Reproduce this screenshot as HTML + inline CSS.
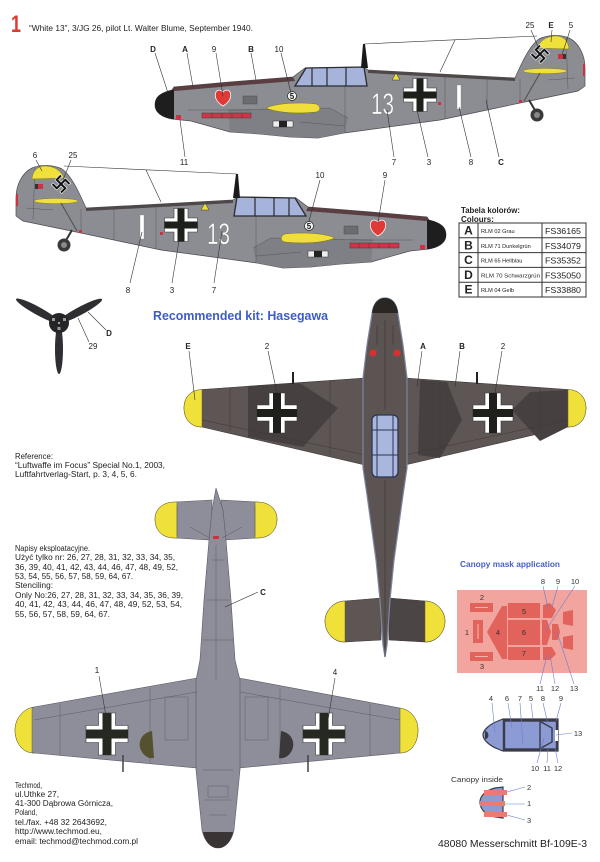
<!DOCTYPE html>
<html><head><meta charset="utf-8"><style>
html,body{margin:0;padding:0;background:#fff;}
svg{display:block;}
text{font-family:"Liberation Sans","DejaVu Sans",sans-serif;}
</style></head><body>
<svg xmlns="http://www.w3.org/2000/svg" xmlns:xlink="http://www.w3.org/1999/xlink" width="600" height="862" viewBox="0 0 600 862">
<defs>
<g id="side">
 <path d="M155,105 C155,97 160,93 172,90 L174,87 L230,82 L293,77 L305,68 L364,67 L368,70 L440,74 L515,78 C522,62 530,45 539,39 C547,35 560,34 569,38 C579,43 585,55 585,68 L585,86 L578,91 L520,103 L440,120 L344,133 L318,138 L290,137 L260,134 L230,132 L191,121 L172,119 C161,117 155,112 155,105Z" fill="#8b8d92" stroke="#4a4a50" stroke-width="0.7"/>
 <path d="M228,110 L330,108 L348,118 L344,133 L318,138 L290,137 L260,134 L230,132 Z" fill="#7e8086"/>
 <path d="M188,110 L250,110 M228,110 L330,108 L348,118 M300,122 L345,126 M345,70 V132 M445,75 V119 M487,77 V110 M520,79 V102 M566,37 L568,89 M548,80 L575,78" fill="none" stroke="#55575c" stroke-width="0.5"/>
 <path d="M172,90 L174,87 L230,82 L293,77 L295,81 L231,86 L175,91 Z" fill="#5a3e42"/>
 <path d="M368,70 L440,74 L515,78 L515,81 L440,77 L368,73 Z" fill="#4f4848"/>
 <path d="M155,105 C155,97 160,93 172,90 L174,90 L174,119 L172,119 C161,117 155,112 155,105Z" fill="#1e1e1e"/>
 <path d="M295,86 L306,68 L364,67 L367,86 Z" fill="#a6b3da" stroke="#2a2a30" stroke-width="1.3"/>
 <path d="M312,68 V86 M327,68 V86 M346,67 V86" stroke="#2a2a30" stroke-width="1.2"/>
 <path d="M361,68 L363,44 L365,44 L368,68Z" fill="#1a1a1a"/>
 <path d="M364,44 L537,36 M455,40 L440,72" stroke="#333" stroke-width="0.6" fill="none"/>
 <path d="M537,48 C540,41 546,36.5 555,36 C563,36 568,40 569,49 Z" fill="#efe13a" stroke="#7a6e1a" stroke-width="0.4"/>
 <rect x="558" y="54" width="5" height="5" fill="#d03040"/><rect x="563" y="54" width="3" height="5" fill="#333"/>
 <rect x="583" y="64" width="2" height="12" fill="#d03040"/>
 <ellipse cx="545" cy="71" rx="22" ry="2.6" fill="#efe13a" stroke="#7a6e1a" stroke-width="0.4"/>
 <path d="M540,73 L524,101" stroke="#555" stroke-width="1.2"/>
 <path d="M529,100 L536,112" stroke="#333" stroke-width="2"/>
 <rect x="519" y="100" width="3" height="3" fill="#d03040"/>
 <circle cx="537" cy="115" r="6.5" fill="#3a3a3a"/><circle cx="537" cy="115" r="3" fill="#888"/>
 <rect x="202" y="113" width="49" height="5" fill="#c8384a" stroke="#6a2a30" stroke-width="0.5"/>
 <path d="M212,113V118M222,113V118M232,113V118M242,113V118" stroke="#6a2a30" stroke-width="0.5"/>
 <rect x="176" y="115" width="5" height="4" fill="#d03040"/>
 <rect x="243" y="96" width="14" height="8" fill="#6a6c70" stroke="#444" stroke-width="0.4"/>
 <path d="M266,108 C276,103 300,102 316,104 C321,106 321,111 316,112 C298,114 278,113 266,108Z" fill="#f0df3a" stroke="#7a6e1a" stroke-width="0.5"/>
 <rect x="273" y="121" width="20" height="6" fill="#eee" stroke="#333" stroke-width="0.5"/><rect x="279" y="121" width="8" height="6" fill="#222"/>
 <path d="M223,106 C216,102 214,96 216,92 C218,89 221,90 223,92 C225,90 228,89 230,92 C232,96 230,102 223,106Z" fill="#e03a36" stroke="#fff" stroke-width="0.8"/>
 <path d="M413,78.5 H427 V88 H436.5 V102 H427 V111.5 H413 V102 H403.5 V88 H413 Z" fill="#fff" stroke="#333" stroke-width="0.6"/>
 <path d="M416.5,78.5 H423.5 V91.5 H436.5 V98.5 H423.5 V111.5 H416.5 V98.5 H403.5 V91.5 H416.5 Z" fill="#1c1f1a"/>
 <rect x="457" y="85" width="4" height="24" fill="#fff" stroke="#777" stroke-width="0.3"/>
 <rect x="438" y="102" width="3" height="3" fill="#d03040"/>
 <polygon points="392,80 396,73 400,80" fill="#efe13a" stroke="#333" stroke-width="0.5"/>
</g>
</defs>

<rect width="600" height="862" fill="#fff"/>

<!-- header -->
<text x="11" y="32" font-size="24" font-weight="bold" fill="#e03a2e" textLength="10" lengthAdjust="spacingAndGlyphs">1</text>
<text x="29" y="31" font-size="8" fill="#222" textLength="224" lengthAdjust="spacingAndGlyphs">“White 13”, 3/JG 26, pilot Lt. Walter Blume, September 1940.</text>

<!-- profile 1 -->
<use xlink:href="#side"/>
<text x="371" y="114" font-size="30" fill="#fff" stroke="#666" stroke-width="0.3" textLength="23" lengthAdjust="spacingAndGlyphs">13</text>
<circle cx="292" cy="96" r="4.5" fill="#f4f4f4" stroke="#222" stroke-width="0.7"/>
<text x="292" y="99" font-size="8" font-weight="bold" text-anchor="middle" fill="#111">5</text>
<g transform="translate(540,54) rotate(45)" fill="none" stroke-linecap="square">
 <path d="M0,-6V6M-6,0H6M0,-6H5M6,0V5M0,6H-5M-6,0V-5" stroke="#fff" stroke-width="3.2"/>
 <path d="M0,-6V6M-6,0H6M0,-6H5M6,0V5M0,6H-5M-6,0V-5" stroke="#111" stroke-width="2"/>
</g>
<g stroke="#333" stroke-width="0.6" fill="none">
 <path d="M155,53 L168,93 M187,53 L193,87 M216,53 L223,96 M251,53 L256,80 M281,53 L291,93"/>
 <path d="M180,120 L185,157 M387,110 L394,157 M417,110 L428,157 M459,107 L471,157 M486,100 L499,157"/>
 <path d="M531,30 L539,49 M552,30 L551,42 M570,30 L562,55"/>
</g>
<g font-size="8" fill="#222" text-anchor="middle">
 <text x="153" y="52" font-weight="bold">D</text><text x="185" y="52" font-weight="bold">A</text>
 <text x="214" y="52">9</text><text x="251" y="52" font-weight="bold">B</text><text x="279" y="52">10</text>
 <text x="530" y="28">25</text><text x="551" y="28" font-weight="bold">E</text><text x="571" y="28">5</text>
 <text x="184" y="165">11</text><text x="394" y="165">7</text><text x="429" y="165">3</text><text x="471" y="165">8</text><text x="501" y="165" font-weight="bold">C</text>
</g>

<!-- profile 2 -->
<use xlink:href="#side" transform="translate(601,130) scale(-1,1)"/>
<text x="207" y="244" font-size="30" fill="#fff" stroke="#666" stroke-width="0.3" textLength="23" lengthAdjust="spacingAndGlyphs">13</text>
<circle cx="309" cy="226" r="4.5" fill="#f4f4f4" stroke="#222" stroke-width="0.7"/>
<text x="309" y="229" font-size="8" font-weight="bold" text-anchor="middle" fill="#111">5</text>
<g transform="translate(61,184) rotate(45)" fill="none" stroke-linecap="square">
 <path d="M0,-6V6M-6,0H6M0,-6H5M6,0V5M0,6H-5M-6,0V-5" stroke="#fff" stroke-width="3.2"/>
 <path d="M0,-6V6M-6,0H6M0,-6H5M6,0V5M0,6H-5M-6,0V-5" stroke="#111" stroke-width="2"/>
</g>
<g stroke="#333" stroke-width="0.6" fill="none">
 <path d="M36,160 L42,171 M71,160 L63,180 M320,180 L309,221 M385,180 L378,223 M130,283 L142,232 M172,283 L180,235 M214,283 L222,231"/>
</g>
<g font-size="8" fill="#222" text-anchor="middle">
 <text x="35" y="158">6</text><text x="73" y="158">25</text><text x="320" y="178">10</text><text x="385" y="178">9</text>
 <text x="128" y="293">8</text><text x="172" y="293">3</text><text x="214" y="293">7</text>
</g>

<!-- colour table -->
<text x="461" y="213" font-size="8" font-weight="bold" fill="#222" textLength="59" lengthAdjust="spacingAndGlyphs">Tabela kolorów:</text>
<text x="461" y="222" font-size="8" font-weight="bold" fill="#222">Colours:</text>
<g stroke="#333" stroke-width="1" fill="none">
 <rect x="459" y="223" width="127" height="74"/>
 <path d="M459,237.8H586M459,252.6H586M459,267.4H586M459,282.2H586M478,223V297M542,223V297"/>
</g>
<g fill="#222">
 <g font-size="12" font-weight="bold" text-anchor="middle">
  <text x="468.5" y="234.5">A</text><text x="468.5" y="249.3">B</text><text x="468.5" y="264.1">C</text><text x="468.5" y="278.9">D</text><text x="468.5" y="293.7">E</text>
 </g>
 <g font-size="5.6">
  <text x="481" y="233">RLM 02  Grau</text><text x="481" y="247.8">RLM 71 Dunkelgrün</text><text x="481" y="262.6">RLM 65  Hellblau</text><text x="481" y="277.4" textLength="59" lengthAdjust="spacingAndGlyphs">RLM 70  Schwarzgrün</text><text x="481" y="292.2">RLM 04 Gelb</text>
 </g>
 <g font-size="8.4">
  <text x="545" y="234" textLength="36" lengthAdjust="spacingAndGlyphs">FS36165</text><text x="545" y="248.8" textLength="36" lengthAdjust="spacingAndGlyphs">FS34079</text><text x="545" y="263.6" textLength="36" lengthAdjust="spacingAndGlyphs">FS35352</text><text x="545" y="278.4" textLength="36" lengthAdjust="spacingAndGlyphs">FS35050</text><text x="545" y="293.2" textLength="36" lengthAdjust="spacingAndGlyphs">FS33880</text>
 </g>
</g>

<text x="153" y="320" font-size="12.5" font-weight="bold" fill="#3d5cc6" textLength="175" lengthAdjust="spacingAndGlyphs">Recommended kit: Hasegawa</text>

<!-- propeller -->
<g fill="#2f2e33">
 <ellipse cx="38" cy="311" rx="25" ry="4" transform="rotate(28.7 38 311)"/>
 <ellipse cx="80" cy="311" rx="25" ry="4" transform="rotate(-28.1 80 311)"/>
 <ellipse cx="59" cy="349" rx="4" ry="25"/>
 <circle cx="59" cy="323" r="10" fill="#252428"/>
</g>
<rect x="52" y="318" width="3" height="3" fill="#999"/><rect x="63" y="318" width="3" height="3" fill="#999"/><rect x="57.5" y="327" width="3" height="3" fill="#999"/><circle cx="59" cy="323" r="1" fill="#ccc"/>
<path d="M88,312 L106,330 M78,318 L89,342" stroke="#333" stroke-width="0.6"/>
<text x="109" y="336" font-size="8" font-weight="bold" fill="#222" text-anchor="middle">D</text>
<text x="93" y="349" font-size="8" fill="#222" text-anchor="middle">29</text>

<!-- top view -->
<g stroke="#3a3434" stroke-width="0.6">
 <path d="M365,378 L202,389.5 C190,390 184,398 184,408 C184,418 190,427 202,427 L365,465 Z" fill="#5e5654"/>
 <path d="M405,378 L568,389.5 C580,390 586,398 586,408 C586,418 580,427 568,427 L405,465 Z" fill="#5e5654"/>
</g>
<g fill="#474040">
 <path d="M248,386 L300,383 L338,408 L303,447 L248,437 Z"/>
 <path d="M420,380 L447,382 L462,420 L440,458 L418,455 Z"/>
 <path d="M568,390 L530,392 L512,410 L540,441 L568,427 Z"/>
</g>
<g fill="#efe13a" stroke="#6a6020" stroke-width="0.5">
 <path d="M202,389.5 L202,427 C190,427 184,418 184,408 C184,398 190,390 202,389.5Z"/>
 <path d="M568,389.5 L568,427 C580,427 586,418 586,408 C586,398 580,390 568,389.5Z"/>
</g>
<path d="M202,420 L365,455 M405,455 L568,420 M230,388 V431 M330,381 V455 M440,381 V455 M540,388 V431" stroke="#3e3838" stroke-width="0.5" fill="none"/>
<path d="M293,372 V384 M477,372 V384" stroke="#222" stroke-width="2"/>
<g stroke="#3a3434" stroke-width="0.6">
 <path d="M381,598 L345,601 C333,601 325,612 325,621 C325,632 333,642 345,642 L381,640 Z" fill="#5e5654"/>
 <path d="M389,598 L425,601 C437,601 445,612 445,621 C445,632 437,642 425,642 L389,640 Z" fill="#4c4545"/>
</g>
<g fill="#efe13a" stroke="#6a6020" stroke-width="0.5">
 <path d="M345,601 C333,601 325,612 325,621 C325,632 333,642 345,642 Z"/>
 <path d="M425,601 C437,601 445,612 445,621 C445,632 437,642 425,642 Z"/>
</g>
<path d="M385,298 C377,298 373,305 372,314 L367,345 L363,378 L363,468 L367,495 L376,560 L380,600 L383,645 L385,657 L387,645 L390,600 L394,560 L403,495 L407,468 L407,378 L403,345 L398,314 C397,305 393,298 385,298Z" fill="#5c5452" stroke="#7d86a2" stroke-width="1.2"/>
<path d="M385,298 C377,298 373,305 372,313 L398,313 C397,305 393,298 385,298Z" fill="#2a2624"/>
<path d="M385,320 V410 M385,480 V657 M377,325 V345 M393,325 V345" stroke="#3a3434" stroke-width="0.6"/>
<circle cx="373" cy="353" r="3.5" fill="#d83030"/><circle cx="397" cy="353" r="3.5" fill="#d83030"/>
<rect x="372" y="415" width="26" height="62" rx="5" fill="#a9b6de" stroke="#2c3550" stroke-width="1.3"/>
<path d="M372,430 H398 M372,455 H398 M377,415 V477 M393,415 V477" stroke="#2c3550" stroke-width="1"/>
<path d="M269,393 H285 V405 H297 V421 H285 V433 H269 V421 H257 V405 H269 Z" fill="#fff" stroke="#333" stroke-width="0.6"/>
<path d="M273,393 H281 V409 H297 V417 H281 V433 H273 V417 H257 V409 H273 Z" fill="#1f1f1c"/>
<path d="M485,393 H501 V405 H513 V421 H501 V433 H485 V421 H473 V405 H485 Z" fill="#fff" stroke="#333" stroke-width="0.6"/>
<path d="M489,393 H497 V409 H513 V417 H497 V433 H489 V417 H473 V409 H489 Z" fill="#1f1f1c"/>
<path d="M189,351 L195,400 M268,351 L277,393 M422,351 L417,387 M460,351 L455,387 M502,351 L495,393" stroke="#333" stroke-width="0.6" fill="none"/>
<g font-size="8" fill="#222" text-anchor="middle">
 <text x="188" y="349" font-weight="bold">E</text><text x="267" y="349">2</text><text x="423" y="349" font-weight="bold">A</text><text x="462" y="349" font-weight="bold">B</text><text x="503" y="349">2</text>
</g>

<!-- texts left -->
<g font-size="8" fill="#222">
 <text x="15" y="459" textLength="38" lengthAdjust="spacingAndGlyphs">Reference:</text>
 <text x="15" y="468" textLength="150" lengthAdjust="spacingAndGlyphs">“Luftwaffe im Focus” Special No.1, 2003,</text>
 <text x="15" y="477" textLength="122" lengthAdjust="spacingAndGlyphs">Luftfahrtverlag-Start, p. 3, 4, 5, 6.</text>
 <text x="15" y="551" textLength="75" lengthAdjust="spacingAndGlyphs">Napisy eksploatacyjne.</text>
 <text x="15" y="560" textLength="160" lengthAdjust="spacingAndGlyphs">Użyć tylko nr: 26, 27, 28, 31, 32, 33, 34, 35,</text>
 <text x="15" y="570" textLength="163" lengthAdjust="spacingAndGlyphs">36, 39, 40, 41, 42, 43, 44, 46, 47, 48, 49, 52,</text>
 <text x="15" y="579" textLength="118" lengthAdjust="spacingAndGlyphs">53, 54, 55, 56, 57, 58, 59, 64, 67.</text>
 <text x="15" y="588" textLength="38" lengthAdjust="spacingAndGlyphs">Stenciling:</text>
 <text x="15" y="598" textLength="168" lengthAdjust="spacingAndGlyphs">Only No:26, 27, 28, 31, 32, 33, 34, 35, 36, 39,</text>
 <text x="15" y="607" textLength="167" lengthAdjust="spacingAndGlyphs">40, 41, 42, 43, 44, 46, 47, 48, 49, 52, 53, 54,</text>
 <text x="15" y="617" textLength="95" lengthAdjust="spacingAndGlyphs">55, 56, 57, 58, 59, 64, 67.</text>
 <text x="15" y="788" textLength="27" lengthAdjust="spacingAndGlyphs">Techmod,</text>
 <text x="15" y="797" textLength="44" lengthAdjust="spacingAndGlyphs">ul.Uthke 27,</text>
 <text x="15" y="806" textLength="98" lengthAdjust="spacingAndGlyphs">41-300 Dąbrowa Górnicza,</text>
 <text x="15" y="815" textLength="22" lengthAdjust="spacingAndGlyphs">Poland,</text>
 <text x="15" y="825" textLength="92" lengthAdjust="spacingAndGlyphs">tel./fax. +48 32 2643692,</text>
 <text x="15" y="834" textLength="87" lengthAdjust="spacingAndGlyphs">http://www.techmod.eu,</text>
 <text x="15" y="844" textLength="123" lengthAdjust="spacingAndGlyphs">email: techmod@techmod.com.pl</text>
</g>

<!-- underside view -->
<g fill="#8e8e9a" stroke="#5a5a66" stroke-width="0.6">
 <path d="M212,500 L175,502 C162,502 155,510 155,519 C155,530 162,538 175,538 L211,540Z"/>
 <path d="M221,500 L257,502 C270,502 277,510 277,519 C277,530 270,538 257,538 L223,540Z"/>
 <path d="M197,678 L34,707 C22,709 15,720 15,730 C15,742 22,753 34,753 L197,768Z"/>
 <path d="M239,678 L400,708 C412,710 418,720 418,730 C418,742 412,753 400,753 L239,768Z"/>
 <path d="M216,488 L212,510 L209,540 L204,600 L200,660 L196,680 L196,770 L199,800 L202,830 C205,843 212,848 218,848 C224,848 231,843 234,830 L237,800 L240,770 L240,680 L235,660 L231,600 L226,540 L223,510 Z"/>
</g>
<g fill="#efe13a" stroke="#6a6020" stroke-width="0.5">
 <path d="M177,502 L175,502 C162,502 155,510 155,519 C155,530 162,538 175,538 L177,538Z"/>
 <path d="M255,502 L257,502 C270,502 277,510 277,519 C277,530 270,538 257,538 L255,538Z"/>
 <path d="M32,707.4 L34,707 C22,709 15,720 15,730 C15,742 22,753 34,753 L32,753Z"/>
 <path d="M400,708 C412,710 418,720 418,730 C418,742 412,753 400,753 Z"/>
</g>
<g stroke="#5c5c68" stroke-width="0.5" fill="none">
 <path d="M177,505 V536 M255,505 V536 M190,527 L210,538 M242,527 L222,538 M212,560 H224 M207,600 H229 M203,640 H233 M216,545 V680"/>
 <path d="M34,720 L197,692 M240,692 L400,720 M60,704 V756 M150,688 V762 M280,688 V762 M370,704 V756 M165,697 H188 V740 H165 Z M245,697 H268 V740 H245 Z"/>
 <path d="M203,770 H233 M205,800 H231 M208,786 H228 V797 H208 Z M209,815 H227"/>
</g>
<path d="M203,832 L233,832 C231,843 224,848 218,848 C212,848 205,843 203,832Z" fill="#3a3434"/>
<rect x="213" y="536" width="6" height="3" fill="#d03040"/>
<path d="M152,731 C140,733 137,745 142,752 C145,757 150,759 154,758 Z" fill="#55502e"/>
<path d="M281,731 C293,733 296,745 291,752 C288,757 283,759 279,758 Z" fill="#3a3838"/>
<path d="M123,755 V772 M308,755 V772" stroke="#444" stroke-width="1.5"/>
<path d="M98.5,713 H115.5 V725.5 H128 V742.5 H115.5 V755 H98.5 V742.5 H86 V725.5 H98.5 Z" fill="#fff" stroke="#333" stroke-width="0.6"/>
<path d="M102.5,713 H111.5 V729.5 H128 V738.5 H111.5 V755 H102.5 V738.5 H86 V729.5 H102.5 Z" fill="#262822"/>
<path d="M315.5,713 H332.5 V725.5 H345 V742.5 H332.5 V755 H315.5 V742.5 H303 V725.5 H315.5 Z" fill="#fff" stroke="#333" stroke-width="0.6"/>
<path d="M319.5,713 H328.5 V729.5 H345 V738.5 H328.5 V755 H319.5 V738.5 H303 V729.5 H319.5 Z" fill="#262822"/>
<path d="M99,676 L107,722 M335,678 L328,720 M225,607 L258,592" stroke="#333" stroke-width="0.6" fill="none"/>
<g font-size="8" fill="#222" text-anchor="middle">
 <text x="97" y="673">1</text><text x="335" y="675">4</text><text x="263" y="595" font-weight="bold">C</text>
</g>

<!-- canopy mask -->
<text x="460" y="567" font-size="8" font-weight="bold" fill="#4660c4" textLength="100" lengthAdjust="spacingAndGlyphs">Canopy mask application</text>
<rect x="457" y="590" width="130" height="83" fill="#f1a59e"/>
<g fill="#e2625c">
 <rect x="470" y="603" width="23" height="9"/>
 <rect x="470" y="652" width="23" height="9"/>
 <rect x="473" y="620" width="10" height="23"/>
 <polygon points="487,632 502,606 507,606 507,659 502,659"/>
 <rect x="508" y="603" width="32" height="15"/>
 <rect x="508" y="620" width="32" height="25"/>
 <rect x="508" y="647" width="32" height="13"/>
 <polygon points="543,605 550,603 556,610 552,618 543,618"/>
 <polygon points="542,620 547,620 551,632 547,645 542,645"/>
 <polygon points="552,624 558,624 560,632 558,640 552,640"/>
 <polygon points="543,647 552,647 556,654 550,660 543,660"/>
 <polygon points="563,612 573,610 573,626 563,624"/>
 <polygon points="563,637 573,635 573,650 563,648"/>
</g>
<path d="M475,607.5 H488 M475,656.5 H488 M478,624 V639" stroke="#f8d0cc" stroke-width="0.8"/>
<g stroke="#6a7fd0" stroke-width="0.6" fill="none">
 <path d="M543,586 L548,608 M558,586 L552,607 M575,586 L546,630 M540,684 L547,655 M555,684 L550,655 M574,684 L557,632"/>
</g>
<g font-size="7.5" fill="#333" text-anchor="middle">
 <text x="482" y="600">2</text><text x="467" y="635">1</text><text x="482" y="669">3</text><text x="498" y="635">4</text>
 <text x="524" y="614">5</text><text x="524" y="635">6</text><text x="524" y="656">7</text>
 <text x="543" y="584">8</text><text x="558" y="584">9</text><text x="575" y="584">10</text>
 <text x="540" y="691">11</text><text x="555" y="691">12</text><text x="574" y="691">13</text>
</g>

<!-- canopy drawing -->
<path d="M503,719 L558,719 L558,751 L503,751 L498,749 C490,746 483,740 483,735 C483,730 490,724 498,721 Z" fill="#8c9bd4" stroke="#3a3a48" stroke-width="1.2"/>
<rect x="504" y="720.5" width="53" height="29" fill="none" stroke="#3a3a48" stroke-width="2.4"/>
<path d="M540,720 V750 M541,722 L552,728 L552,742 L541,748" stroke="#3a3a48" stroke-width="1.4" fill="none"/>
<rect x="555" y="730" width="3" height="11" fill="#fff"/>
<path d="M485,731 C489,731 490,739 485,739 Z" fill="#3a3a48"/>
<g stroke="#6a7fd0" stroke-width="0.6" fill="none">
 <path d="M492,703 L495,733 M508,703 L512,728 M520,703 L523,745 M531,703 L533,719 M543,703 L548,724 M561,703 L556,721 M572,733 L556,735 M537,763 L544,738 M547,763 L548,749 M558,763 L555,748"/>
</g>
<g font-size="7.5" fill="#333" text-anchor="middle">
 <text x="491" y="701">4</text><text x="507" y="701">6</text><text x="520" y="701">7</text><text x="531" y="701">5</text><text x="543" y="701">8</text><text x="561" y="701">9</text>
 <text x="578" y="736">13</text>
 <text x="535" y="771">10</text><text x="547" y="771">11</text><text x="558" y="771">12</text>
</g>

<!-- canopy inside -->
<text x="451" y="782" font-size="7.5" fill="#333" textLength="52" lengthAdjust="spacingAndGlyphs">Canopy inside</text>
<path d="M495,788 L503,787 L503,818 L490,816 C482,812 480,806 480,802 C480,797 484,791 495,788 Z" fill="#8c9bd4" stroke="#3a3a48" stroke-width="1.2"/>
<g fill="#ea7a72">
 <rect x="484" y="790" width="23" height="5"/>
 <rect x="480" y="801" width="25" height="5"/>
 <rect x="484" y="812" width="23" height="5"/>
</g>
<path d="M507,792 L525,787 M505,804 L525,804 M507,815 L525,820" stroke="#6a7fd0" stroke-width="0.6"/>
<g font-size="7.5" fill="#333">
 <text x="527" y="790">2</text><text x="527" y="806">1</text><text x="527" y="823">3</text>
</g>

<text x="438" y="847" font-size="10.5" fill="#222" textLength="149" lengthAdjust="spacingAndGlyphs">48080 Messerschmitt Bf-109E-3</text>
</svg>
</body></html>
